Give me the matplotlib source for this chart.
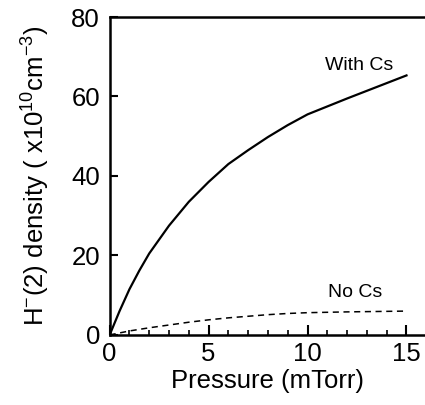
import matplotlib
matplotlib.use("Agg")
import matplotlib.pyplot as plt
from matplotlib.ticker import MultipleLocator

plt.rcParams["font.family"] = ["Liberation Sans", "DejaVu Sans"]
plt.rcParams["mathtext.fontset"] = "custom"
plt.rcParams["mathtext.rm"] = "Liberation Sans"
plt.rcParams["mathtext.it"] = "Liberation Sans:italic"

# pressure (mTorr) and H- density (x10^10 cm^-3)
p_cs = [0, 0.5, 1, 1.5, 2, 3, 4, 5, 6, 7, 8, 9, 10, 12, 15]
with_cs = [0, 6, 11.5, 16.2, 20.5, 27.5, 33.5, 38.5, 43, 46.5, 49.8, 52.8, 55.5, 59.5, 65.3]

p_nocs = [0, 1, 2, 3, 4, 5, 6, 7, 8, 9, 10, 12, 15]
no_cs = [0, 1.0, 1.8, 2.5, 3.2, 3.8, 4.3, 4.7, 5.1, 5.4, 5.6, 5.8, 6.0]

fig = plt.figure(figsize=(4.25, 4.05), dpi=100)
ax = fig.add_axes([0.258, 0.173, 0.745, 0.785])

ax.plot(p_cs, with_cs, color="black", lw=1.6)
ax.plot(p_nocs, no_cs, color="black", lw=1.1, ls=(0, (4, 3)))

ax.text(12.6, 67.8, "With Cs", fontsize=14, ha="center", va="center")
ax.text(12.4, 10.8, "No Cs", fontsize=14, ha="center", va="center")

ax.set_xlim(0, 16)
ax.set_ylim(0, 80)
ax.xaxis.set_major_locator(MultipleLocator(5))
ax.xaxis.set_minor_locator(MultipleLocator(1))
ax.yaxis.set_major_locator(MultipleLocator(20))

ax.tick_params(which="major", direction="in", length=7, width=1.5, labelsize=18.5)
ax.tick_params(axis="x", which="major", pad=5)
ax.tick_params(axis="y", which="major", length=6, pad=7)
ax.tick_params(which="minor", direction="in", length=3.5, width=1.2)

for side in ["left", "bottom", "top"]:
    ax.spines[side].set_linewidth(1.8)
ax.spines["right"].set_visible(False)

ax.set_xlabel("Pressure (mTorr)", fontsize=18.5, labelpad=2)
ax.set_ylabel("H$^{-}$(2) density ( x10$^{10}$cm$^{-3}$)", fontsize=18.5, labelpad=14)

fig.savefig("out.png", dpi=100)
